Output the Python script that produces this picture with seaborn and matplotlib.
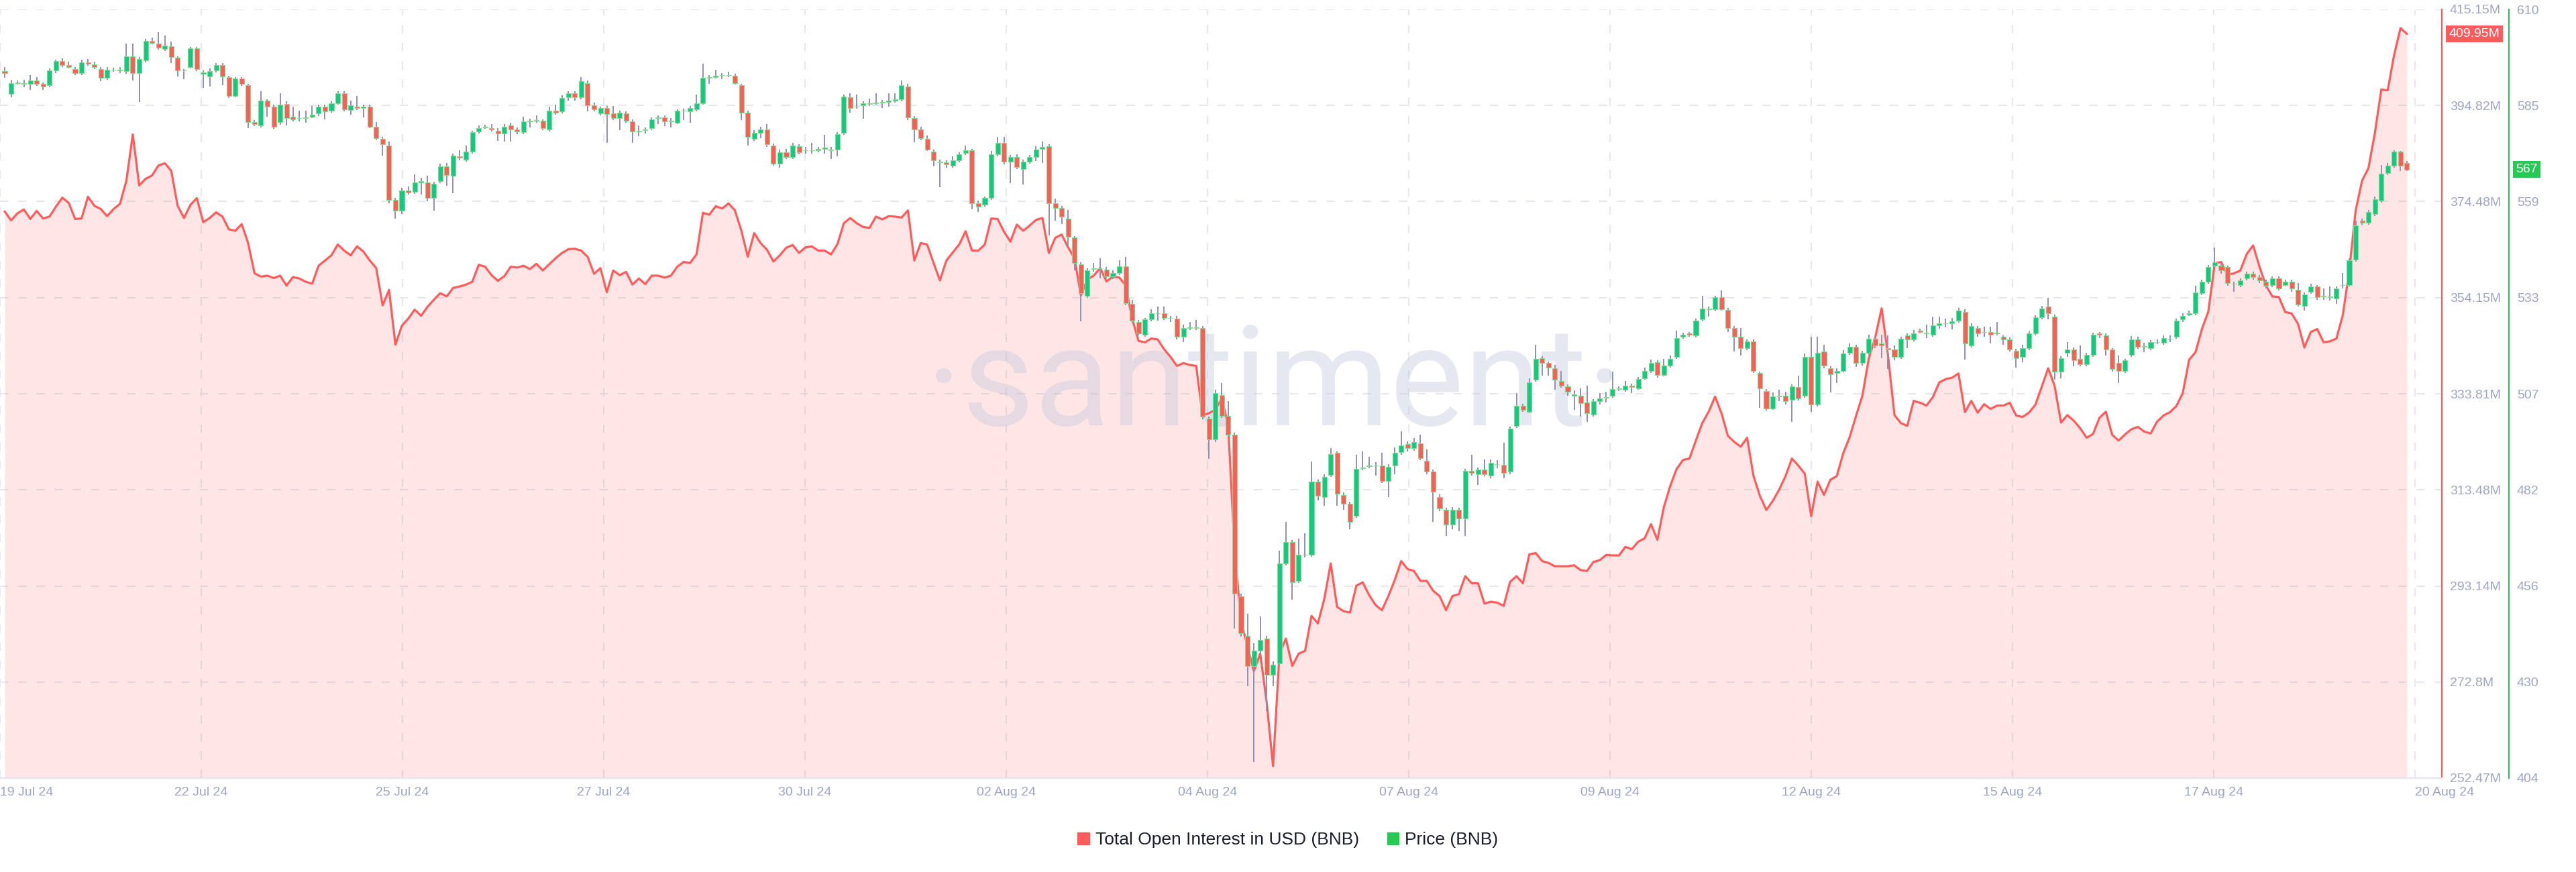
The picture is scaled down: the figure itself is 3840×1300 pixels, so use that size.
import numpy as np
import pandas as pd
import matplotlib
matplotlib.use("Agg")
import matplotlib.pyplot as plt
import matplotlib.dates as mdates
from matplotlib.patches import Patch
import seaborn as sns

sns.set_theme(style="white")
plt.rcParams["font.family"] = ["Liberation Sans", "DejaVu Sans"]

# BNB, 2-hour candles from 20 Jul 2024 00:00
start = "2024-07-20 00:00"

open_ = [
    593.5, 587.3, 590.4, 590.2, 590.0, 591.0, 590.0, 589.6, 593.6, 596.1,
    595.0, 594.0, 593.0, 595.8, 595.2, 594.0, 591.6, 593.9, 593.8, 593.4,
    597.4, 593.0, 596.3, 601.6, 600.9, 599.4, 600.1, 597.0, 593.7, 594.6,
    599.5, 593.1, 592.0, 593.6, 595.0, 591.8, 586.9, 591.4, 589.6, 579.8,
    578.9, 585.6, 584.0, 579.8, 584.7, 581.3, 580.9, 580.8, 581.3, 582.1,
    583.9, 582.9, 584.9, 587.6, 583.0, 584.0, 583.5, 583.9, 578.6, 575.3,
    573.5, 559.0, 556.1, 561.5, 561.1, 563.7, 563.7, 559.4, 563.9, 567.9,
    565.5, 570.6, 569.8, 571.9, 577.3, 578.4, 578.2, 577.5, 576.7, 578.9,
    577.8, 577.1, 580.0, 580.3, 580.1, 577.8, 582.8, 582.6, 586.5, 587.6,
    586.5, 590.3, 584.3, 582.1, 583.6, 582.2, 580.8, 582.2, 580.0, 577.3,
    577.7, 578.1, 580.8, 581.0, 580.1, 579.7, 582.9, 582.6, 583.2, 584.9,
    591.6, 591.9, 592.3, 592.3, 592.2, 589.6, 582.4, 575.3, 577.0, 577.8,
    573.5, 568.7, 571.8, 570.4, 573.3, 572.2, 572.2, 572.3, 572.9, 572.5,
    572.5, 576.9, 586.5, 583.9, 584.3, 584.7, 584.9, 585.1, 585.2, 585.6,
    585.9, 589.3, 580.8, 577.8, 575.3, 571.9, 569.2, 569.0, 568.2, 569.5,
    571.5, 572.2, 558.1, 557.7, 559.4, 571.1, 574.2, 569.2, 570.4, 567.2,
    569.2, 570.4, 572.6, 573.3, 558.1, 556.8, 553.9, 548.8, 541.7, 533.3,
    540.4, 540.7, 540.3, 538.4, 539.3, 541.1, 531.0, 526.3, 522.8, 526.9,
    528.6, 528.6, 527.3, 527.1, 522.3, 524.6, 524.8, 524.6, 500.4, 494.7,
    506.7, 501.1, 496.0, 452.8, 442.1, 434.1, 438.1, 441.4, 431.6, 434.7,
    461.6, 467.2, 456.9, 463.8, 463.8, 483.4, 479.3, 485.3, 491.1, 479.9,
    477.6, 474.3, 487.0, 487.6, 487.8, 487.7, 483.7, 487.7, 491.3, 493.5,
    492.4, 493.7, 489.0, 486.1, 479.3, 475.9, 471.9, 475.9, 473.6, 486.4,
    485.4, 486.6, 485.0, 488.2, 488.0, 486.1, 498.4, 503.8, 502.2, 510.8,
    516.5, 515.2, 513.8, 510.5, 508.9, 506.9, 506.5, 504.7, 501.4, 505.1,
    505.9, 506.5, 508.2, 508.1, 509.2, 508.5, 511.2, 513.2, 515.5, 512.1,
    514.5, 516.9, 522.3, 523.1, 522.6, 526.9, 529.9, 529.7, 532.8, 529.5,
    524.6, 522.3, 519.2, 521.0, 512.5, 507.8, 503.1, 506.3, 506.5, 505.4,
    508.8, 506.5, 516.9, 504.1, 518.3, 513.8, 512.5, 513.2, 517.9, 519.6,
    515.2, 517.9, 521.8, 520.4, 519.2, 518.9, 516.9, 522.6, 521.6, 523.9,
    523.4, 522.8, 525.3, 525.8, 525.9, 526.6, 529.0, 519.9, 524.6, 523.5,
    523.6, 523.2, 522.2, 521.5, 518.5, 516.8, 519.2, 523.2, 527.5, 530.3,
    527.7, 512.9, 517.9, 518.8, 516.3, 514.9, 517.5, 523.1, 522.6, 518.8,
    515.2, 513.2, 517.5, 521.6, 519.8, 519.2, 520.8, 520.7, 521.8, 522.2,
    526.9, 528.3, 528.6, 534.0, 537.0, 541.3, 541.3, 540.9, 536.5, 536.2,
    537.9, 539.2, 538.3, 537.0, 536.2, 537.9, 536.2, 537.0, 534.9, 530.6,
    534.4, 535.7, 533.2, 533.0, 532.6, 536.2, 536.2, 543.0, 553.4, 552.9,
    555.2, 558.8, 566.1, 568.2, 571.9, 568.9,
]

close = [
    593.0, 590.3, 590.3, 590.0, 591.0, 590.0, 589.3, 593.6, 596.1, 595.0,
    594.6, 593.0, 595.8, 595.4, 594.6, 591.6, 593.8, 593.8, 593.6, 597.4,
    593.0, 596.7, 601.6, 601.1, 599.7, 600.3, 597.3, 593.6, 593.6, 599.5,
    594.0, 592.7, 593.4, 595.0, 592.0, 586.9, 591.4, 590.0, 579.8, 579.3,
    585.6, 584.0, 578.5, 584.5, 580.9, 580.6, 580.9, 581.0, 581.8, 583.9,
    582.6, 584.8, 587.6, 583.2, 584.3, 583.6, 583.9, 578.6, 575.5, 573.8,
    559.0, 556.1, 561.5, 560.9, 563.7, 563.9, 559.4, 563.3, 567.9, 565.6,
    570.8, 570.2, 571.9, 577.1, 578.1, 578.5, 577.8, 576.7, 578.6, 577.8,
    577.3, 580.0, 580.2, 580.2, 578.2, 582.8, 582.4, 586.3, 587.5, 586.5,
    590.7, 584.3, 583.2, 583.5, 582.0, 580.8, 582.4, 580.2, 577.3, 577.4,
    577.8, 580.5, 581.0, 580.0, 580.0, 582.8, 582.8, 583.5, 584.9, 591.6,
    591.8, 592.2, 592.4, 592.3, 590.3, 582.4, 575.9, 577.0, 577.8, 573.8,
    568.7, 571.8, 570.4, 573.5, 571.8, 572.3, 572.3, 572.7, 572.6, 572.3,
    576.6, 586.7, 583.6, 584.0, 584.8, 584.9, 585.1, 585.2, 585.5, 585.9,
    589.6, 581.0, 577.8, 575.5, 572.5, 569.5, 569.0, 568.4, 569.5, 571.2,
    572.2, 558.1, 557.2, 559.4, 571.1, 574.2, 569.2, 570.4, 567.8, 569.2,
    570.4, 572.5, 573.1, 558.1, 556.8, 554.5, 549.1, 542.0, 534.0, 540.0,
    540.7, 540.7, 538.4, 539.3, 541.1, 531.3, 526.6, 523.2, 526.9, 528.6,
    528.6, 527.3, 527.3, 522.3, 524.6, 524.8, 524.6, 500.8, 494.7, 507.1,
    501.1, 496.0, 453.5, 442.8, 434.1, 438.1, 441.0, 431.6, 434.3, 461.6,
    467.2, 456.5, 463.8, 463.8, 483.4, 479.7, 484.7, 490.8, 480.3, 477.6,
    472.7, 486.8, 487.3, 487.7, 487.7, 483.7, 487.4, 491.1, 493.1, 492.4,
    494.0, 489.7, 486.1, 480.7, 476.3, 471.9, 475.9, 473.6, 486.4, 485.7,
    486.6, 485.4, 488.4, 488.1, 485.7, 497.6, 503.8, 502.7, 510.1, 516.3,
    515.3, 514.1, 510.8, 509.2, 507.5, 506.5, 504.5, 501.8, 505.1, 505.8,
    506.1, 508.2, 508.4, 509.2, 508.8, 510.9, 513.2, 515.2, 512.1, 514.5,
    516.4, 521.9, 522.8, 522.8, 526.6, 529.9, 529.7, 532.8, 529.7, 524.6,
    522.3, 519.2, 521.0, 513.2, 508.4, 503.1, 506.2, 506.5, 505.1, 509.0,
    505.8, 516.9, 504.1, 517.9, 514.5, 512.2, 513.2, 517.7, 519.6, 515.2,
    517.9, 521.8, 519.9, 519.9, 518.8, 516.9, 521.8, 521.6, 523.2, 523.6,
    523.1, 525.3, 525.9, 525.9, 526.5, 529.3, 520.4, 525.2, 523.2, 523.5,
    522.8, 523.4, 521.6, 518.9, 516.5, 519.2, 523.2, 527.5, 529.9, 528.6,
    512.9, 516.5, 518.8, 515.9, 514.9, 517.5, 522.8, 522.8, 518.8, 513.6,
    513.2, 515.9, 521.6, 519.6, 519.6, 520.8, 520.8, 521.9, 521.8, 526.6,
    527.9, 528.6, 534.2, 537.0, 540.9, 542.3, 540.0, 536.6, 536.5, 537.3,
    539.2, 538.3, 537.3, 536.0, 537.9, 535.3, 537.0, 535.2, 530.9, 533.6,
    535.8, 532.9, 533.0, 532.9, 535.3, 536.2, 542.7, 552.1, 552.9, 555.7,
    559.2, 565.9, 568.2, 571.9, 568.2, 567.1,
]

# shadow lengths above / below the candle body, USD
wick_up = [
    1.1, 0.8, 0.5, 1.0, 1.3, 0.8, 0.4, 0.6, 0.5, 0.8,
    0.9, 0.6, 0.7, 0.9, 0.8, 0.5, 0.7, 0.5, 0.8, 3.4,
    3.4, 0.6, 0.5, 0.8, 3.0, 2.7, 1.2, 0.4, 0.3, 0.4,
    0.5, 0.6, 0.8, 0.6, 0.7, 0.4, 0.5, 0.5, 0.4, 0.5,
    2.4, 0.4, 0.5, 3.0, 0.6, 2.7, 2.0, 1.8, 2.4, 0.5,
    0.6, 0.6, 0.4, 0.5, 1.3, 2.8, 0.6, 0.5, 1.2, 0.6,
    1.0, 0.5, 0.6, 1.0, 2.0, 1.0, 1.7, 0.5, 0.8, 1.0,
    0.5, 1.6, 1.6, 0.4, 0.8, 0.6, 1.0, 0.6, 0.6, 0.7,
    0.5, 1.3, 0.5, 1.3, 0.5, 1.2, 1.6, 0.7, 0.5, 0.5,
    1.1, 0.6, 0.8, 0.5, 0.6, 2.0, 0.5, 0.5, 0.6, 1.5,
    0.5, 0.6, 0.6, 0.6, 0.7, 0.5, 0.5, 0.6, 2.3, 3.9,
    0.5, 1.6, 0.6, 1.0, 0.5, 0.5, 0.5, 0.6, 0.8, 1.5,
    0.5, 0.6, 0.8, 0.7, 0.6, 0.8, 1.9, 0.5, 3.4, 0.6,
    0.5, 0.5, 1.1, 3.2, 0.6, 1.2, 2.4, 0.6, 2.1, 1.6,
    1.3, 0.8, 0.7, 0.8, 0.9, 0.6, 0.5, 0.5, 1.1, 0.6,
    1.3, 0.5, 0.6, 0.5, 1.0, 1.7, 1.7, 0.6, 0.8, 0.5,
    0.6, 0.8, 1.5, 0.6, 1.2, 0.6, 2.4, 0.5, 0.5, 0.7,
    1.3, 2.7, 0.6, 0.8, 1.7, 2.5, 1.2, 0.5, 0.5, 1.0,
    1.7, 1.7, 0.6, 0.8, 1.0, 1.5, 2.0, 0.5, 0.5, 0.9,
    3.1, 4.0, 0.5, 0.6, 6.0, 2.0, 6.4, 0.7, 1.0, 3.4,
    5.5, 0.6, 4.4, 5.8, 5.4, 0.6, 0.8, 1.6, 0.5, 0.6,
    0.5, 3.9, 4.2, 2.4, 0.8, 3.4, 0.8, 1.5, 3.8, 0.8,
    1.2, 2.3, 3.0, 0.5, 0.8, 0.5, 0.8, 0.6, 0.5, 4.3,
    0.6, 2.7, 1.0, 1.0, 5.8, 0.6, 3.4, 0.5, 1.0, 3.9,
    0.6, 0.5, 1.0, 2.7, 0.6, 1.0, 2.0, 4.4, 0.5, 1.3,
    1.5, 4.7, 0.5, 1.3, 0.5, 0.6, 0.8, 1.0, 0.5, 1.9,
    0.8, 2.0, 0.6, 0.4, 0.5, 3.4, 0.5, 0.5, 1.9, 0.5,
    0.6, 2.3, 0.5, 0.5, 0.5, 0.5, 1.2, 1.6, 1.0, 0.6,
    3.1, 0.8, 5.4, 4.4, 1.9, 0.5, 0.6, 1.0, 0.8, 0.6,
    0.6, 1.0, 0.8, 2.4, 3.4, 1.0, 0.5, 0.6, 0.8, 0.6,
    2.1, 2.4, 1.7, 1.3, 0.8, 0.7, 0.7, 0.6, 0.5, 1.5,
    1.3, 2.8, 0.5, 0.6, 0.5, 1.0, 0.5, 0.5, 0.6, 2.4,
    0.5, 0.6, 2.0, 0.6, 3.6, 0.5, 0.6, 0.5, 0.6, 0.5,
    2.0, 0.5, 0.8, 0.6, 0.8, 0.6, 0.7, 0.7, 0.8, 0.5,
    0.6, 0.7, 1.7, 0.5, 0.7, 3.9, 0.8, 0.5, 0.5, 0.6,
    0.5, 0.5, 0.6, 0.5, 0.6, 0.6, 0.5, 0.6, 1.7, 0.5,
    0.6, 0.4, 2.1, 2.7, 0.4, 3.1, 0.6, 1.3, 0.6, 0.5,
    0.6, 2.4, 0.6, 0.3, 0.2, 0.4,
]

wick_dn = [
    1.4, 0.8, 0.5, 0.9, 1.6, 0.5, 0.8, 0.4, 0.6, 0.5,
    0.5, 0.7, 0.6, 0.5, 0.6, 0.8, 0.5, 0.5, 0.6, 0.6,
    2.0, 7.8, 0.5, 0.5, 0.5, 0.5, 1.6, 1.6, 2.3, 0.5,
    0.6, 3.8, 2.7, 0.5, 2.4, 0.6, 0.5, 0.5, 1.6, 0.5,
    0.6, 2.7, 0.5, 0.7, 2.0, 0.6, 1.0, 1.2, 0.5, 0.6,
    2.0, 0.5, 0.5, 0.6, 1.2, 0.5, 2.4, 0.5, 0.6, 3.0,
    1.0, 2.1, 1.0, 0.6, 0.5, 3.3, 0.8, 3.4, 0.5, 2.8,
    4.7, 0.6, 0.6, 0.5, 0.5, 0.4, 0.5, 1.9, 2.1, 3.2,
    0.8, 0.5, 1.7, 0.6, 0.5, 0.5, 0.6, 0.5, 1.0, 1.0,
    0.5, 1.7, 0.6, 0.5, 7.8, 0.5, 3.2, 0.5, 3.0, 1.2,
    1.0, 0.5, 1.6, 1.3, 1.7, 0.5, 2.4, 3.0, 0.5, 0.5,
    1.6, 0.5, 1.0, 0.5, 0.5, 2.1, 2.4, 0.5, 1.5, 0.6,
    0.6, 1.2, 0.5, 0.5, 0.6, 0.8, 0.8, 0.6, 1.2, 2.4,
    1.9, 0.5, 1.3, 0.5, 3.6, 0.5, 0.5, 1.5, 1.2, 0.5,
    0.5, 0.6, 3.4, 0.6, 0.5, 1.6, 6.6, 0.9, 0.7, 0.5,
    0.5, 1.7, 1.5, 0.6, 0.5, 0.5, 0.8, 5.8, 0.6, 4.2,
    0.6, 1.0, 3.8, 8.7, 3.4, 2.1, 2.8, 2.0, 7.6, 0.6,
    0.6, 2.7, 0.5, 0.6, 0.5, 0.5, 0.6, 0.6, 0.5, 0.5,
    2.0, 0.5, 1.0, 0.8, 1.5, 0.5, 0.5, 0.6, 5.2, 0.6,
    0.5, 0.6, 9.4, 0.8, 5.4, 25.7, 0.6, 9.7, 3.0, 0.6,
    0.6, 4.7, 0.6, 0.6, 0.5, 1.3, 2.3, 0.6, 3.4, 1.7,
    2.0, 0.6, 0.5, 0.5, 2.7, 0.6, 4.3, 2.3, 0.6, 0.8,
    0.6, 0.5, 0.6, 8.0, 0.8, 3.0, 1.3, 3.4, 4.7, 0.6,
    2.8, 0.5, 0.6, 1.1, 1.3, 0.6, 0.6, 0.6, 0.5, 0.6,
    3.5, 2.3, 2.7, 0.5, 1.0, 3.8, 3.6, 2.3, 0.6, 1.0,
    1.2, 0.5, 0.5, 0.6, 1.6, 0.5, 0.5, 0.7, 0.8, 0.5,
    0.5, 0.6, 0.5, 0.5, 0.5, 0.5, 2.0, 0.6, 0.5, 1.0,
    4.0, 2.0, 0.5, 0.7, 5.2, 0.6, 0.5, 1.3, 1.0, 5.9,
    0.6, 0.5, 2.0, 0.6, 0.6, 4.8, 2.7, 0.5, 0.5, 1.0,
    0.7, 0.5, 0.6, 3.4, 5.1, 1.0, 0.5, 2.4, 0.6, 0.5,
    1.2, 0.5, 0.8, 1.0, 1.6, 0.5, 4.3, 0.5, 1.0, 1.3,
    2.3, 0.6, 1.5, 0.6, 2.4, 1.3, 0.5, 0.5, 0.5, 1.6,
    2.1, 1.7, 1.0, 1.6, 0.6, 0.5, 0.6, 0.8, 1.5, 0.6,
    3.4, 0.7, 0.6, 0.6, 1.5, 0.6, 0.5, 0.5, 1.0, 0.5,
    0.6, 0.5, 0.5, 0.6, 0.5, 0.6, 0.8, 0.6, 2.1, 0.6,
    0.5, 0.8, 0.6, 0.8, 0.7, 0.6, 0.5, 0.8, 0.5, 1.3,
    0.6, 0.8, 0.8, 0.9, 1.6, 1.0, 0.5, 0.5, 0.6, 0.6,
    0.5, 0.6, 0.5, 0.6, 1.6, 0.5,
]

# total open interest, million USD
oi_musd = [
    372.4, 370.5, 372.0, 372.8, 370.8, 372.5, 370.9, 371.3, 373.4, 375.3,
    374.2, 370.8, 370.9, 375.5, 373.6, 372.9, 371.4, 372.9, 374.0, 378.9,
    388.7, 377.9, 379.3, 380.0, 382.1, 382.6, 381.0, 373.6, 371.0, 373.8,
    375.2, 370.1, 371.0, 372.2, 371.3, 368.6, 368.3, 369.7, 365.7, 359.3,
    358.6, 358.8, 358.3, 358.8, 356.7, 358.5, 358.2, 357.5, 357.1, 360.9,
    362.0, 363.1, 365.4, 364.1, 363.1, 365.0, 363.9, 362.0, 360.4, 352.5,
    355.8, 344.2, 348.2, 349.7, 351.6, 350.3, 352.2, 353.7, 355.1, 354.4,
    356.2, 356.5, 356.9, 357.5, 361.1, 360.7, 358.9, 357.7, 358.7, 360.7,
    360.5, 360.9, 360.2, 361.3, 359.9, 361.2, 362.5, 363.6, 364.4, 364.5,
    364.1, 362.8, 359.2, 360.4, 355.3, 359.9, 358.9, 359.6, 356.9, 358.2,
    357.0, 358.8, 358.8, 358.4, 358.8, 360.7, 361.7, 361.5, 363.3, 372.1,
    371.7, 373.5, 373.0, 374.1, 372.6, 368.3, 362.8, 367.8, 365.7, 364.3,
    361.8, 363.1, 364.7, 365.3, 363.6, 364.8, 365.0, 364.1, 364.1, 363.3,
    365.5, 369.9, 371.0, 369.9, 369.1, 368.9, 371.3, 370.7, 371.4, 371.3,
    371.1, 372.6, 362.0, 365.7, 365.4, 361.5, 357.8, 362.0, 363.7, 365.4,
    368.2, 364.1, 364.1, 365.4, 370.9, 370.8, 368.1, 366.0, 369.6, 368.3,
    369.4, 370.6, 371.0, 363.6, 366.8, 367.5, 364.8, 362.5, 354.6, 358.0,
    358.8, 360.4, 357.6, 358.6, 358.4, 356.7, 349.7, 345.0, 344.7, 345.5,
    345.3, 343.2, 341.6, 339.7, 340.3, 339.9, 339.7, 329.2, 329.7, 330.4,
    332.9, 327.0, 300.6, 285.7, 280.4, 275.1, 278.8, 268.6, 255.0, 278.8,
    282.0, 276.2, 278.8, 279.4, 286.8, 285.2, 290.4, 297.9, 288.7, 287.8,
    287.5, 293.2, 293.9, 291.2, 289.1, 288.0, 291.0, 294.4, 298.4, 296.7,
    296.3, 294.2, 294.2, 292.1, 291.0, 288.0, 291.0, 291.4, 295.2, 293.7,
    293.7, 289.4, 289.8, 289.6, 288.9, 294.0, 295.2, 293.7, 299.8, 300.1,
    298.4, 298.0, 297.3, 297.3, 297.3, 297.5, 296.5, 296.3, 298.2, 298.6,
    299.7, 299.6, 299.6, 301.4, 300.9, 302.5, 303.2, 306.2, 302.9, 309.8,
    314.3, 317.9, 319.8, 320.1, 323.9, 327.6, 330.0, 333.2, 329.7, 324.9,
    323.6, 322.6, 324.5, 316.4, 312.2, 309.2, 311.1, 313.5, 316.4, 320.1,
    318.6, 316.9, 307.9, 315.2, 312.4, 315.6, 316.4, 321.2, 324.6, 329.1,
    333.4, 341.3, 345.7, 351.9, 341.9, 329.3, 327.6, 327.0, 332.3, 331.9,
    331.3, 333.1, 336.2, 336.9, 337.2, 338.1, 329.9, 332.3, 329.8, 331.6,
    330.6, 331.3, 331.3, 331.9, 329.2, 328.9, 329.8, 331.5, 335.3, 339.2,
    335.5, 327.7, 329.3, 328.1, 326.5, 324.5, 325.3, 328.7, 330.0, 325.1,
    323.9, 325.2, 326.3, 326.8, 325.8, 325.4, 327.9, 329.2, 329.9, 331.2,
    333.9, 341.0, 342.6, 347.5, 351.2, 361.4, 361.7, 359.0, 359.3, 359.9,
    363.4, 365.2, 360.6, 356.7, 354.4, 354.3, 351.1, 350.8, 348.6, 343.6,
    346.9, 347.5, 344.7, 344.9, 345.5, 350.5, 359.9, 372.6, 378.9, 381.6,
    389.0, 398.2, 398.0, 405.5, 411.2, 409.95,
]

x_labels = ["19 Jul 24", "22 Jul 24", "25 Jul 24", "27 Jul 24", "30 Jul 24",
            "02 Aug 24", "04 Aug 24", "07 Aug 24", "09 Aug 24", "12 Aug 24",
            "15 Aug 24", "17 Aug 24", "20 Aug 24"]
oi_labels = ["252.47M", "272.8M", "293.14M", "313.48M", "333.81M",
             "354.15M", "374.48M", "394.82M", "415.15M"]
price_labels = ["404", "430", "456", "482", "507", "533", "559", "585", "610"]

RED = "#ff5b5b"
GREEN = "#16c784"
GREEN_AX = "#26c954"
WICK = "#8d91b5"
GRID = "#e5e7f1"
TXT = "#9ea6c2"

df = pd.DataFrame({
    "time": pd.date_range(start, periods=len(close), freq="2h"),
    "open": open_, "close": close, "oi": oi_musd,
})
df["high"] = df[["open", "close"]].max(axis=1) + np.array(wick_up)
df["low"] = df[["open", "close"]].min(axis=1) - np.array(wick_dn)
df["rising"] = df["close"] >= df["open"]

xnum = mdates.date2num(df["time"])
step = 2 / 24  # one candle in days

fig = plt.figure(figsize=(38.4, 13), dpi=100)
ax = fig.add_axes([0, 140 / 1300, 3640 / 3840, 1146 / 1300])
ax2 = ax.twinx()
ax2.patch.set_visible(False)

# open interest: filled line on the main (red) axis
ax.fill_between(xnum, df["oi"], 252.47, color=RED, alpha=0.15, lw=0, zorder=1)
sns.lineplot(x=xnum, y=df["oi"].values, ax=ax, color=RED, lw=2.3, zorder=3)
ax.set_ylim(252.47, 415.15)

# watermark sits between the fill and the lines
ax.text(0.4948, 0.512, "·santiment·", transform=fig.transFigure, ha="center",
        va="baseline", fontsize=150, family=["Roboto", "DejaVu Sans"],
        color="#c2c6de", alpha=0.4, zorder=2)

# price candles on the twin (green) axis
ax2.vlines(xnum, df["low"], df["high"], color=WICK, lw=1.4, zorder=2)
body_col = np.where(df["rising"], GREEN, RED)
ax2.bar(xnum, df["close"] - df["open"], bottom=df["open"], width=step * 0.74,
        color=body_col, edgecolor="#86dc8c", linewidth=0.8, zorder=3)
ax2.set_ylim(404, 610)

xmin = xnum[0] - 0.73 * step
xmax = xnum[-1] + 5.45 * step
ax.set_xlim(xmin, xmax)
xt = [xmin + k * (xmax - xmin) * 300 / 3640 for k in range(len(x_labels))]
ax.set_xticks(xt)
ax.set_xticklabels(x_labels)
lab = ax.get_xticklabels()
lab[0].set_horizontalalignment("left")
lab[-1].set_horizontalalignment("left")

ax.set_yticks(np.linspace(252.47, 415.15, len(oi_labels)))
ax.set_yticklabels(oi_labels)
ax2.set_yticks(np.linspace(404, 610, len(price_labels)))
ax2.set_yticklabels(price_labels)

ax.grid(True, color=GRID, lw=1.5, ls=(0, (6, 7)))
ax2.grid(False)
ax.set_xlabel("")
ax.set_ylabel("")
ax2.set_ylabel("")

ax.yaxis.tick_right()
ax.tick_params(axis="y", length=0, pad=8.6, labelsize=14, labelcolor=TXT,
               left=False, labelleft=False, right=False, labelright=True)
ax.tick_params(axis="x", length=0, pad=9, labelsize=14, labelcolor=TXT)
ax2.tick_params(axis="y", length=0, pad=8.6, labelsize=14, labelcolor=TXT)

for s in ["top", "left"]:
    ax.spines[s].set_visible(False)
ax.spines["right"].set_color(RED)
ax.spines["right"].set_linewidth(1.5)
ax.spines["bottom"].set_color("#e2e5ef")
ax.spines["bottom"].set_linewidth(1.5)
for s in ["top", "left", "bottom"]:
    ax2.spines[s].set_visible(False)
ax2.spines["right"].set_position(("outward", 72))
ax2.spines["right"].set_color(GREEN_AX)
ax2.spines["right"].set_linewidth(1.5)

# last-value badges
ax.annotate(f"{oi_musd[-1]:.2f}M", xy=(1, oi_musd[-1]),
            xycoords=("axes fraction", "data"), xytext=(7.5, 0),
            textcoords="offset points", ha="left", va="center", fontsize=14,
            color="white", annotation_clip=False,
            bbox=dict(boxstyle="square,pad=0.22", fc=RED, ec="none"))
ax2.annotate(f"{close[-1]:.0f}", xy=(1, close[-1]),
             xycoords=("axes fraction", "data"), xytext=(79.5, 0),
             textcoords="offset points", ha="left", va="center", fontsize=14,
             color="white", annotation_clip=False,
             bbox=dict(boxstyle="square,pad=0.22", fc=GREEN_AX, ec="none"))

fig.legend(handles=[Patch(color=RED), Patch(color=GREEN_AX)],
           labels=["Total Open Interest in USD (BNB)", "Price (BNB)"],
           loc="center", bbox_to_anchor=(0.5, 48 / 1300), ncol=2,
           frameon=False, fontsize=19, handlelength=0.65, handleheight=0.65,
           handletextpad=0.35, columnspacing=1.6, labelcolor="#1c1f2e")

fig.savefig("out.png", dpi=100)
